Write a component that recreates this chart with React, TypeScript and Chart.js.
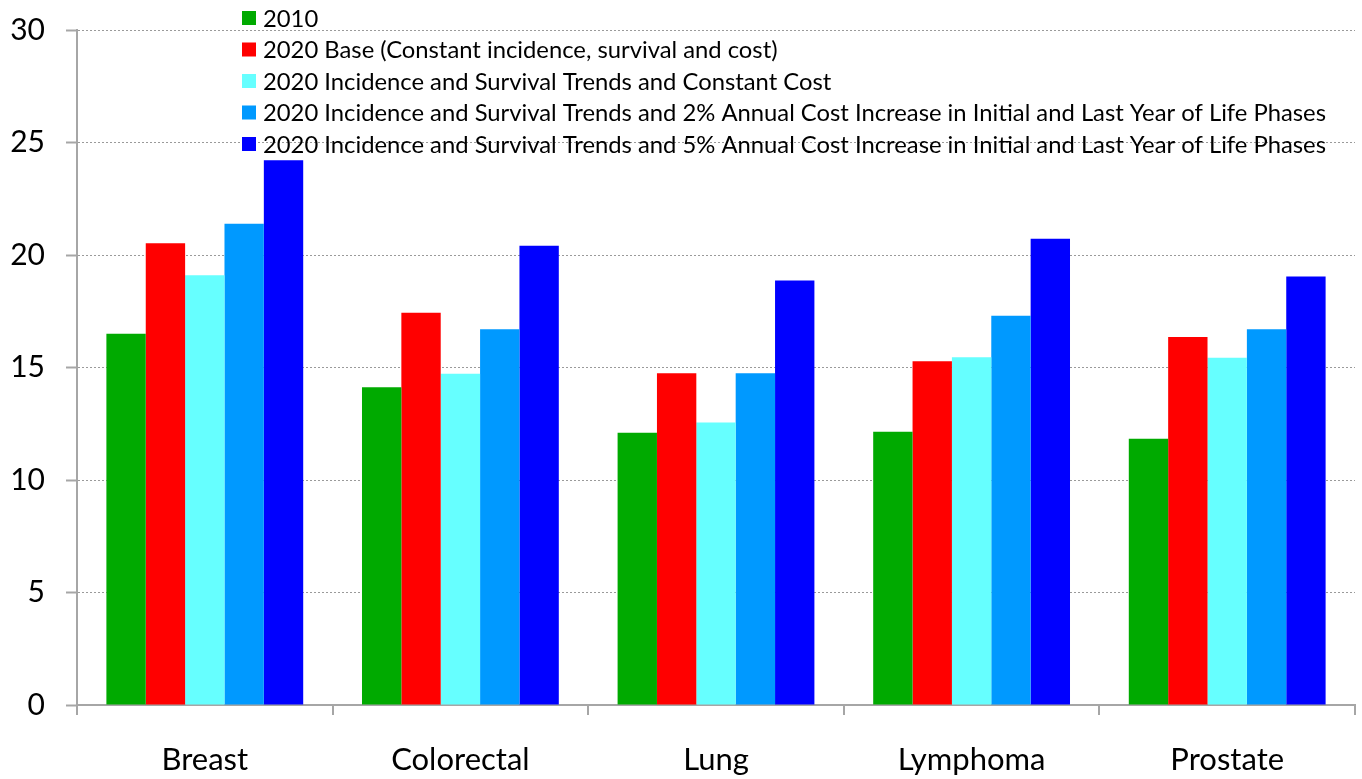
import React, { useEffect, useRef } from "react";
import { Chart, registerables } from "chart.js";

Chart.register(...registerables);

const categories = ["Breast", "Colorectal", "Lung", "Lymphoma", "Prostate"];
const seriesLabels = [
  "2010",
  "2020 Base (Constant incidence, survival and cost)",
  "2020 Incidence and Survival Trends and Constant Cost",
  "2020 Incidence and Survival Trends and 2% Annual Cost Increase in Initial and Last Year of Life Phases",
  "2020 Incidence and Survival Trends and 5% Annual Cost Increase in Initial and Last Year of Life Phases",
];
const values2010 = [16.5, 14.12, 12.1, 12.14, 11.83];
const valuesBase = [20.52, 17.43, 14.75, 15.28, 16.36];
const valuesConstantCost = [19.1, 14.72, 12.56, 15.46, 15.43];
const values2Pct = [21.39, 16.7, 14.75, 17.3, 16.7];
const values5Pct = [24.21, 20.41, 18.87, 20.72, 19.04];
const seriesColors = ["#00AA00", "#FF0000", "#66FFFF", "#0099FF", "#0000FF"];
const yMin = 0;
const yMax = 30;
const yStep = 5;

const FONT = "Lato, 'Open Sans', sans-serif";

const legendPlugin = {
  id: "customLegend",
  afterDraw(chart: any) {
    const { ctx, chartArea } = chart;
    const x0 = chartArea.left + 165;
    const y0 = chartArea.top - 12;
    const spacing = 31.5;
    ctx.save();
    ctx.font = `23.8px ${FONT}`;
    ctx.textBaseline = "middle";
    ctx.textAlign = "left";
    chart.data.datasets.forEach((ds: any, i: number) => {
      const cy = y0 + i * spacing;
      ctx.fillStyle = ds.backgroundColor;
      ctx.fillRect(x0, cy - 7, 14, 14);
      ctx.fillStyle = "#000";
      ctx.fillText(ds.label, x0 + 21, cy + 1);
    });
    ctx.restore();
  },
};

export default function App() {
  const ref = useRef<HTMLCanvasElement | null>(null);
  useEffect(() => {
    if (!ref.current) return;
    const seriesValues = [values2010, valuesBase, valuesConstantCost, values2Pct, values5Pct];
    const chart = new Chart(ref.current, {
      type: "bar",
      data: {
        labels: categories,
        datasets: seriesValues.map((v, i) => ({
          label: seriesLabels[i],
          data: v,
          backgroundColor: seriesColors[i],
          borderWidth: 0,
          barPercentage: 1,
          categoryPercentage: 0.77,
        })),
      },
      options: {
        animation: false,
        responsive: false,
        maintainAspectRatio: false,
        layout: { padding: { top: 30, right: 7, left: 0, bottom: 0 } },
        plugins: { legend: { display: false }, tooltip: { enabled: false } },
        scales: {
          x: {
            afterFit(scale: any) {
              scale.height = 74;
              scale.paddingLeft = 0;
              scale.paddingRight = 0;
            },
            border: { display: true, color: "#A6A6A6", width: 2 },
            grid: {
              offset: true,
              drawOnChartArea: false,
              drawTicks: true,
              tickLength: 10,
              color: "#A6A6A6",
              lineWidth: 2,
            },
            ticks: {
              color: "#000",
              font: { family: FONT, size: 31 },
              padding: 26,
            },
          },
          y: {
            min: yMin,
            max: yMax,
            afterFit(scale: any) {
              scale.width = 77;
              scale.paddingTop = 0;
              scale.paddingBottom = 0;
            },
            border: { display: true, color: "#A6A6A6", width: 2, dash: [2, 2] },
            grid: {
              color: "#9A9A9A",
              lineWidth: 1,
              tickLength: 11,
              tickColor: "#A6A6A6",
              tickWidth: 2,
              tickBorderDash: [],
            },
            ticks: {
              stepSize: yStep,
              color: "#000",
              font: { family: FONT, size: 30 },
              padding: 21,
            },
          },
        },
      },
      plugins: [legendPlugin],
    });
    return () => chart.destroy();
  }, []);
  return (
    <div style={{ position: "absolute", left: 0, top: 0, width: 1362, height: 779, background: "#fff" }}>
      <canvas ref={ref} width={1362} height={779} style={{ width: 1362, height: 779 }} />
    </div>
  );
}
